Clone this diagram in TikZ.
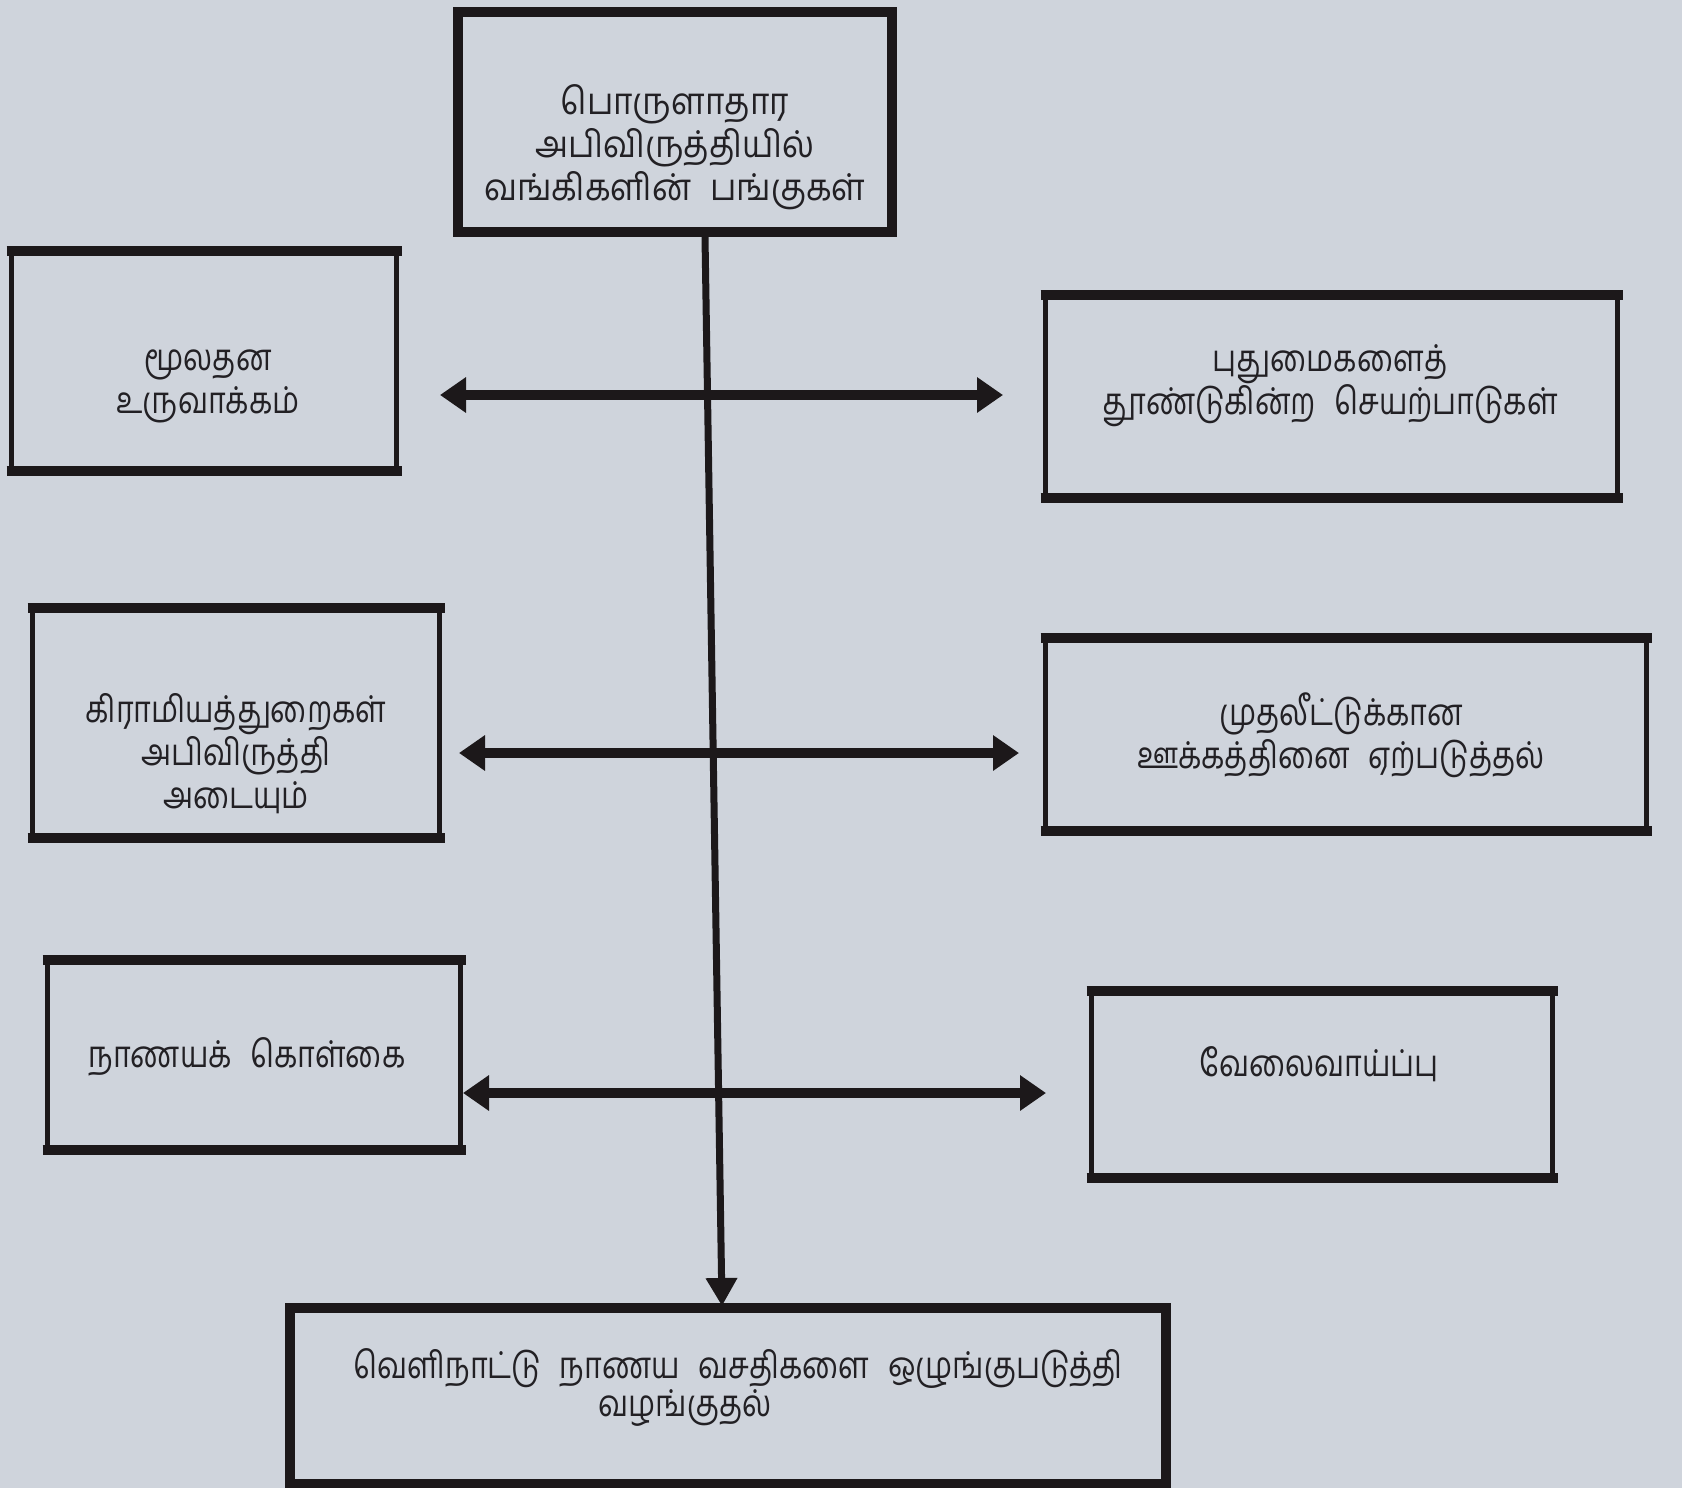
\documentclass[tikz,border=0pt]{standalone}
\usepackage{fontspec}
\newfontfamily\tamil[Script=Tamil,FakeStretch=0.82]{Hind Madurai}
\newfontfamily\tamilw[Script=Tamil,FakeStretch=0.9]{Hind Madurai}
\usetikzlibrary{arrows.meta}
\definecolor{bg}{RGB}{207,212,220}
\definecolor{ink}{RGB}{28,24,26}
\definecolor{txtc}{RGB}{34,32,36}
\tikzset{
  box/.style={draw=ink, fill=bg, line width=2.5pt, inner sep=0pt, rectangle},
  edgebar/.style={draw=ink, line width=5pt, line cap=butt, shorten <=-1.25pt, shorten >=-1.25pt},
  lbl/.style={align=center, text=txtc, inner sep=0pt,
    font=\fontsize{18.5pt}{21.5pt}\selectfont\tamil},
  lblw/.style={lbl, font=\fontsize{18.5pt}{21.5pt}\selectfont\tamilw},
  dbl/.style={draw=ink, line width=5pt,
    {Triangle[length=13pt,width=17pt]}-{Triangle[length=13pt,width=17pt]}},
  down/.style={draw=ink, line width=3.5pt, -{Triangle[length=14pt,width=15pt]}}
}
\begin{document}
\begin{tikzpicture}[x=0.5pt,y=-0.5pt]
\fill[bg] (0,0) rectangle (1682,1488);
\useasboundingbox (0,0) rectangle (1682,1488);

% boxes
\node[box, line width=5pt, minimum width=217pt, minimum height=110pt] (top) at (675,122) {};
\node[box, minimum width=192.5pt, minimum height=107.5pt] (lb1) at (204,360.5) {};
\node[box, minimum width=286pt, minimum height=99pt] (rb1) at (1331.5,396) {};
\node[box, minimum width=203.5pt, minimum height=112.5pt] (lb2) at (236,722.5) {};
\node[box, minimum width=300.5pt, minimum height=94pt] (rb2) at (1346,734) {};
\node[box, minimum width=206.5pt, minimum height=92.5pt] (lb3) at (254,1054.5) {};
\node[box, minimum width=230.5pt, minimum height=91pt] (rb3) at (1322,1084) {};
\node[box, line width=5pt, minimum width=438pt, minimum height=88pt] (bot) at (727.5,1396) {};

% thick top and bottom edges
\foreach \b in {lb1,rb1,lb2,rb2,lb3,rb3}{
  \draw[edgebar] (\b.north west) -- (\b.north east);
  \draw[edgebar] (\b.south west) -- (\b.south east);
}

% labels
\node[lblw] (topT) at (675,147) {பொருளாதார\\அபிவிருத்தியில்\\வங்கிகளின்\enspace பங்குகள்};
\node[lbl] (lb1T) at (208,386) {மூலதன\\உருவாக்கம்};
\node[lbl] (rb1T) at (1330,386) {புதுமைகளைத்\\தூண்டுகின்ற\enspace செயற்பாடுகள்};
\node[lbl] (lb2T) at (236,754) {கிராமியத்துறைகள்\\அபிவிருத்தி\\அடையும்};
\node[lbl] (rb2T) at (1341,735) {முதலீட்டுக்கான\\ஊக்கத்தினை\enspace ஏற்படுத்தல்};
\node[lbl] (lb3T) at (247,1057) {நாணயக்\enspace கொள்கை};
\node[lbl] (rb3T) at (1319,1064) {வேலைவாய்ப்பு};
\node[lbl] (botT1) at (738,1368) {வெளிநாட்டு\enspace நாணய\enspace வசதிகளை\enspace ஒழுங்குபடுத்தி};
\node[lbl] (botT2) at (685,1408) {வழங்குதல்};

% connectors
\coordinate (vs) at (705,237);
\coordinate (ve) at (722,1306);
\draw[down] (vs) -- (ve);

\coordinate (a1l) at (440,395);  \coordinate (a1r) at (1003,395);
\coordinate (a2l) at (459,753);  \coordinate (a2r) at (1019,753);
\coordinate (a3l) at (463,1093); \coordinate (a3r) at (1046,1093);
\draw[dbl] (a1l) -- (a1r);
\draw[dbl] (a2l) -- (a2r);
\draw[dbl] (a3l) -- (a3r);
\end{tikzpicture}
\end{document}
